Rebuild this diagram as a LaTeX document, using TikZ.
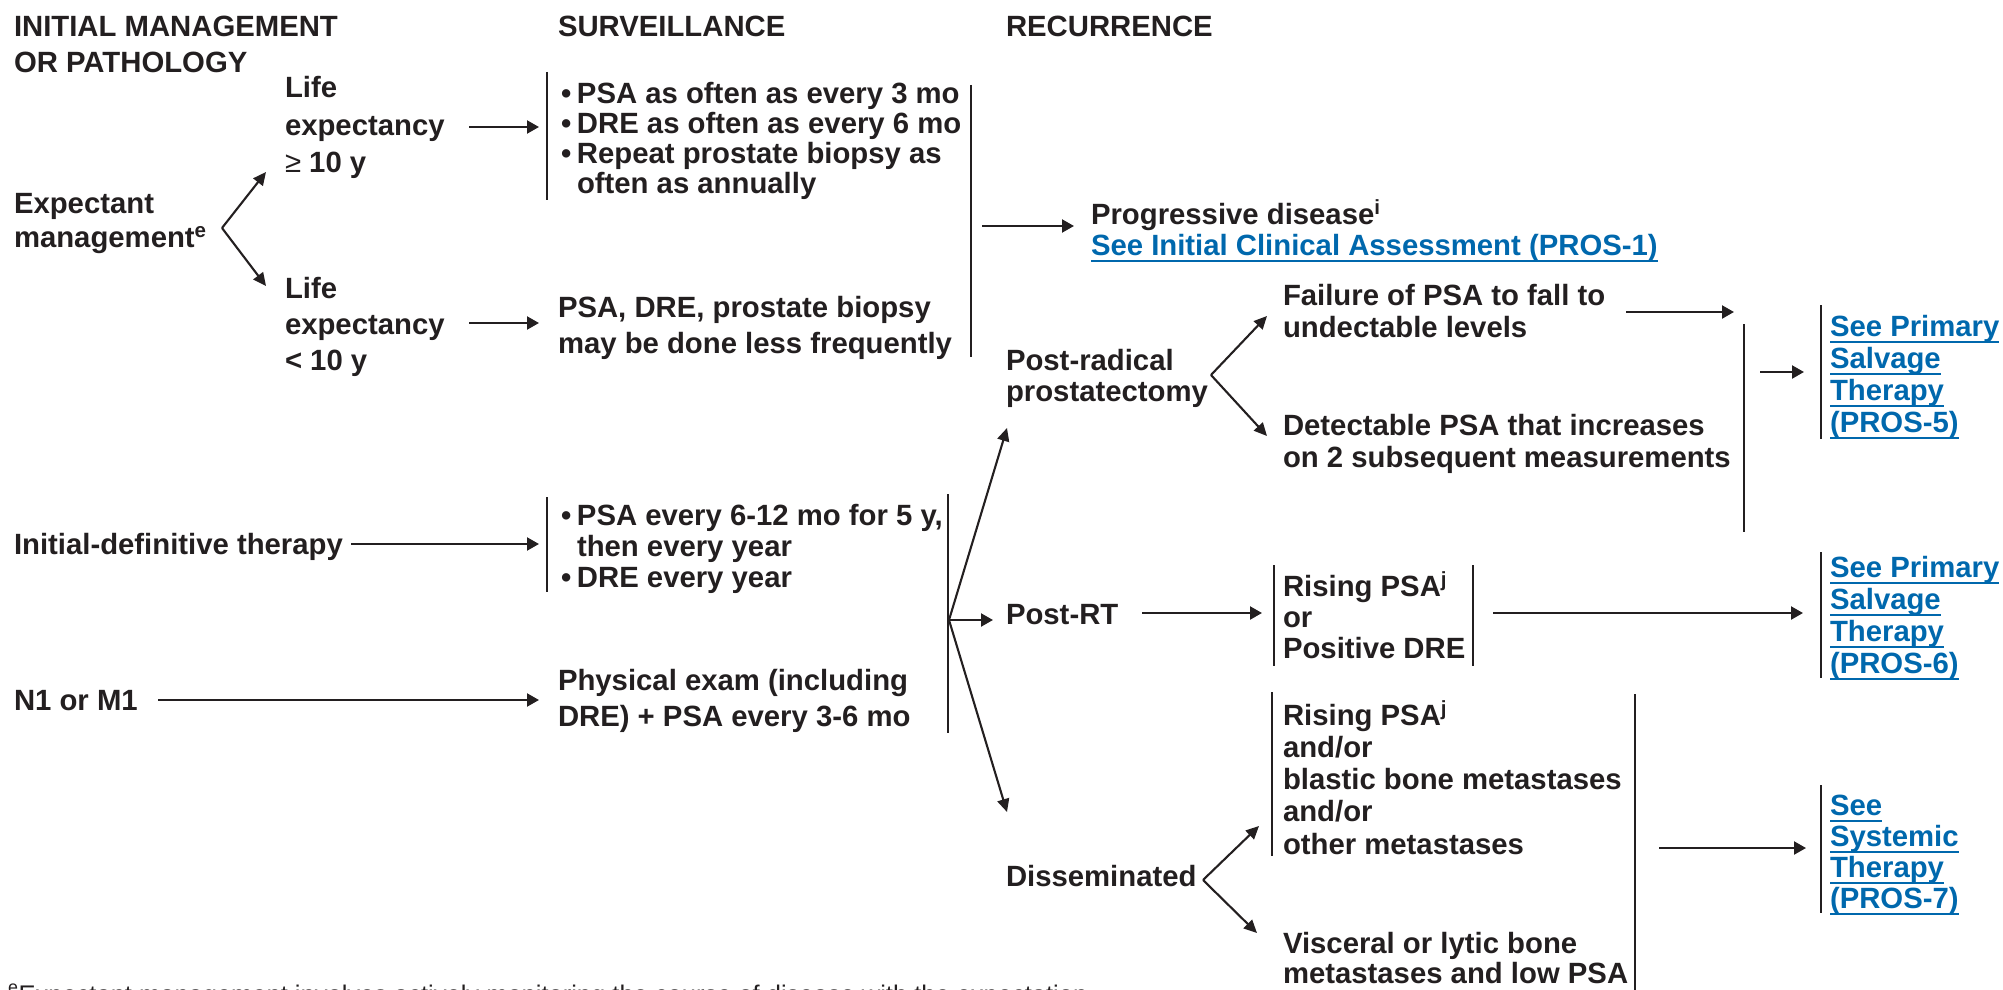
\documentclass[tikz,border=0pt]{standalone}
\usepackage{fontspec}
\setmainfont{Liberation Sans}
\usetikzlibrary{arrows.meta}
\definecolor{ink}{RGB}{35,31,32}
\definecolor{link}{RGB}{0,104,173}
\newcommand\ml[2]{\vtop{\baselineskip=#1pt\lineskiplimit=-100pt\lineskip=0pt\let\\\cr\halign{##\hfil\cr#2\crcr}}}
\newcommand\bul{\hbox to 16pt{•\hfil}}
\newcommand\ind{\hskip16pt}
\newcommand\ulk[1]{\setbox0\hbox{#1}\rlap{\rule[-7pt]{\wd0}{2pt}}\box0}
\tikzset{
 txt/.style={anchor=base west, inner sep=0pt, outer sep=0pt, text=ink, font=\fontsize{29.3}{36}\selectfont\bfseries},
 lnk/.style={txt, text=link},
 arr/.style={draw=ink, line width=2.2pt, -{Triangle[length=12pt,width=13pt]}},
 fork/.style={draw=ink, line width=2.1pt, -{Triangle[length=13pt,width=12pt]}},
 bar/.style={draw=ink, line width=2pt},
}
\begin{document}
\begin{tikzpicture}[x=1pt,y=-1pt]
\useasboundingbox (0,0) rectangle (2003,990);
% headers
\node[txt] (hInit) at (14,37) {\ml{36}{INITIAL MANAGEMENT\\OR PATHOLOGY}};
\node[txt] (hSurv) at (558,37) {SURVEILLANCE};
\node[txt] (hRec) at (1006,37) {RECURRENCE};
% initial management
\node[txt] (expm) at (14,213) {\ml{34}{Expectant\\management\textsuperscript{e}}};
\node[txt] (life1) at (285,98) {\ml{37}{Life\\expectancy\\{\mdseries ≥} 10 y}};
\node[txt] (life2) at (285,298) {\ml{36}{Life\\expectancy\\< 10 y}};
\node[txt] (idt) at (14,554) {Initial-definitive therapy};
\node[txt] (n1m1) at (14,710) {N1 or M1};
% surveillance
\node[txt] (s1) at (561,103) {\ml{30}{\bul PSA as often as every 3 mo\\\bul DRE as often as every 6 mo\\\bul Repeat prostate biopsy as\\\ind often as annually}};
\node[txt] (s2) at (558,317) {\ml{36}{PSA, DRE, prostate biopsy\\may be done less frequently}};
\node[txt] (s3) at (561,525) {\ml{31}{\bul PSA every 6-12 mo for 5 y,\\\ind then every year\\\bul DRE every year}};
\node[txt] (s4) at (558,690) {\ml{36}{Physical exam (including\\DRE) + PSA every 3-6 mo}};
% recurrence
\node[txt] (prog) at (1091,224) {\ml{31}{Progressive disease\textsuperscript{i}\\\textcolor{link}{\ulk{See Initial Clinical Assessment (PROS-1)}}}};
\node[txt] (postrp) at (1006,370) {\ml{31}{Post-radical\\prostatectomy}};
\node[txt] (fail) at (1283,305) {\ml{32}{Failure of PSA to fall to\\undectable levels}};
\node[txt] (detect) at (1283,435) {\ml{32}{Detectable PSA that increases\\on 2 subsequent measurements}};
\node[lnk] (ps5) at (1830,336) {\ml{32}{\ulk{See Primary}\\\ulk{Salvage}\\\ulk{Therapy}\\\ulk{(PROS-5)}}};
\node[txt] (postrt) at (1006,624) {Post-RT};
\node[txt] (rising) at (1283,596) {\ml{31}{Rising PSA\textsuperscript{j}\\or\\Positive DRE}};
\node[lnk] (ps6) at (1830,577) {\ml{32}{\ulk{See Primary}\\\ulk{Salvage}\\\ulk{Therapy}\\\ulk{(PROS-6)}}};
\node[txt] (meta) at (1283,725) {\ml{32.3}{Rising PSA\textsuperscript{j}\\and/or\\blastic bone metastases\\and/or\\other metastases}};
\node[txt] (dissem) at (1006,886) {Disseminated};
\node[txt] (visc) at (1283,953) {\ml{30}{Visceral or lytic bone\\metastases and low PSA}};
\node[lnk] (ps7) at (1830,815) {\ml{31}{\ulk{See}\\\ulk{Systemic}\\\ulk{Therapy}\\\ulk{(PROS-7)}}};
% footnote (cut by the page edge, as in the reference)
\node[anchor=base west, inner sep=0pt, text=ink, font=\fontsize{25.5}{31}\selectfont] (fn) at (8,1003) {\textsuperscript{e}Expectant management involves actively monitoring the course of disease with the expectation};
% bracket lines
\draw[bar] (547,72) -- (547,200);
\draw[bar] (971,85) -- (971,357);
\draw[bar] (547,497) -- (547,592);
\draw[bar] (948,494) -- (948,733);
\draw[bar] (1744,324) -- (1744,532);
\draw[bar] (1821,305) -- (1821,439);
\draw[bar] (1274,565) -- (1274,666);
\draw[bar] (1473,565) -- (1473,666);
\draw[bar] (1821,552) -- (1821,678);
\draw[bar] (1272,692) -- (1272,856);
\draw[bar] (1635,694) -- (1635,995);
\draw[bar] (1821,785) -- (1821,913);
% coordinates
\coordinate (fE) at (222,228); \coordinate (fE1) at (266,172); \coordinate (fE2) at (266,286);
\coordinate (fR) at (949,620); \coordinate (fR1) at (1007,428); \coordinate (fR2) at (993,620); \coordinate (fR3) at (1007,812);
\coordinate (fP) at (1211,375); \coordinate (fP1) at (1267,316); \coordinate (fP2) at (1267,436);
\coordinate (fD) at (1203,880); \coordinate (fD1) at (1259,826); \coordinate (fD2) at (1257,933);
\coordinate (a1s) at (469,127); \coordinate (a1e) at (539,127);
\coordinate (a2s) at (469,323); \coordinate (a2e) at (539,323);
\coordinate (a3s) at (982,226); \coordinate (a3e) at (1074,226);
\coordinate (a4s) at (351,544); \coordinate (a4e) at (539,544);
\coordinate (a5s) at (158,700); \coordinate (a5e) at (539,700);
\coordinate (a6s) at (1626,312); \coordinate (a6e) at (1734,312);
\coordinate (a7s) at (1760,372); \coordinate (a7e) at (1804,372);
\coordinate (a8s) at (1142,613); \coordinate (a8e) at (1262,613);
\coordinate (a9s) at (1493,613); \coordinate (a9e) at (1803,613);
\coordinate (a10s) at (1659,848); \coordinate (a10e) at (1806,848);
% forks
\draw[fork] (fE) -- (fE1); \draw[fork] (fE) -- (fE2);
\draw[fork] (fR) -- (fR1); \draw[arr] (fR) -- (fR2); \draw[fork] (fR) -- (fR3);
\draw[fork] (fP) -- (fP1); \draw[fork] (fP) -- (fP2);
\draw[fork] (fD) -- (fD1); \draw[fork] (fD) -- (fD2);
% arrows
\draw[arr] (a1s) -- (a1e);
\draw[arr] (a2s) -- (a2e);
\draw[arr] (a3s) -- (a3e);
\draw[arr] (a4s) -- (a4e);
\draw[arr] (a5s) -- (a5e);
\draw[arr] (a6s) -- (a6e);
\draw[arr] (a7s) -- (a7e);
\draw[arr] (a8s) -- (a8e);
\draw[arr] (a9s) -- (a9e);
\draw[arr] (a10s) -- (a10e);
\end{tikzpicture}
\end{document}
